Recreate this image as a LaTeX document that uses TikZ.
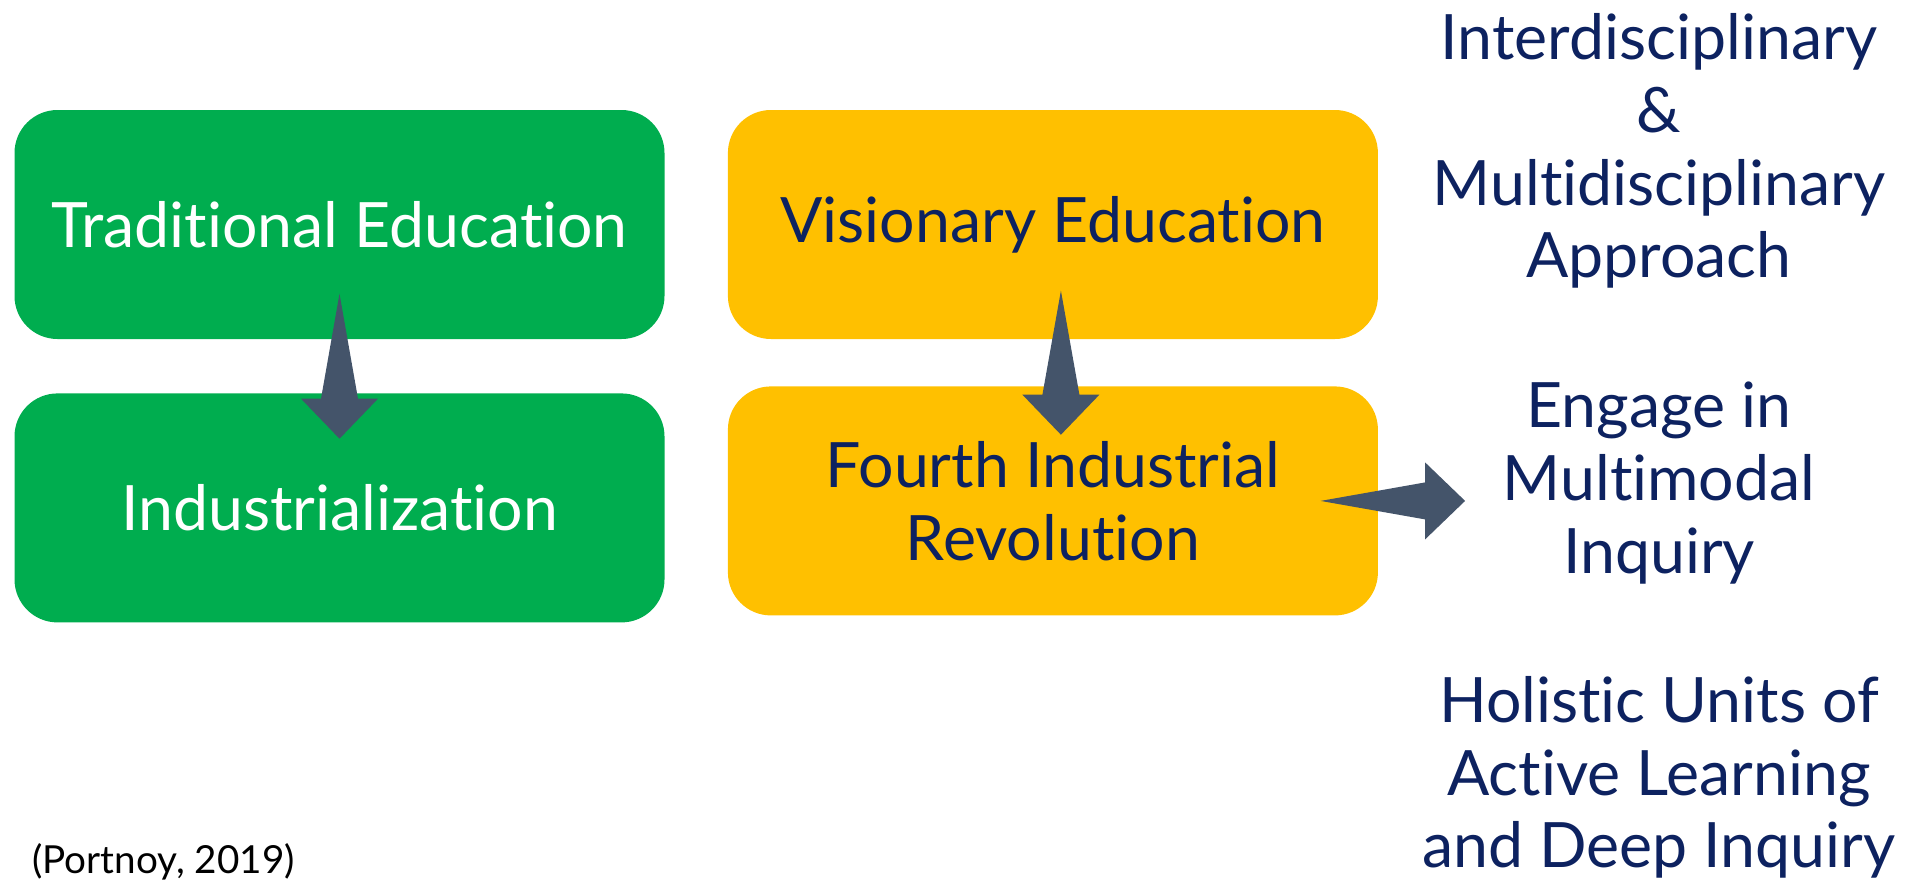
\documentclass[tikz,border=0pt]{standalone}
\usepackage{fontspec}
\setmainfont{Lato}[Ligatures=NoCommon]
\usepackage{tikz}
\usetikzlibrary{positioning,calc}

\definecolor{boxgreen}{HTML}{00AD4F}
\definecolor{boxgold}{HTML}{FFC000}
\definecolor{arrowslate}{HTML}{44546A}
\definecolor{textnavy}{HTML}{0D2260}

\tikzset{
    eduBox/.style={rectangle, rounded corners=0.43cm, minimum width=6.5cm, minimum height=2.29cm, align=center, font=\fontsize{17.8}{20.7}\selectfont},
    greenBox/.style={eduBox, fill=boxgreen, text=white},
    goldBox/.style={eduBox, fill=boxgold, text=textnavy},
    sideText/.style={align=center, text=textnavy, inner sep=0pt, font=\fontsize{17.8}{20.7}\selectfont}
}

% tapered block arrow: #1 tail point, #2 tip point
\newcommand{\taperArrow}[2]{%
    \coordinate (hb) at ($(#2)!0.40cm!(#1)$);
    \fill[arrowslate] (#1) -- ($(hb)!0.185cm!90:(#2)$) -- ($(hb)!0.385cm!90:(#2)$) -- (#2)
        -- ($(hb)!0.385cm!-90:(#2)$) -- ($(hb)!0.185cm!-90:(#2)$) -- cycle;
}

\begin{document}
\begin{tikzpicture}
    \useasboundingbox (0,0) rectangle (19.17,8.85);

    % Left column - green boxes
    \node [greenBox] (trad) at (3.395,6.605) {Traditional Education};
    \node [greenBox, below=0.53cm of trad] (indus) {Industrialization};

    % Middle column - gold boxes
    \node [goldBox, right=0.62cm of trad] (vision) {Visionary Education};
    \node [goldBox, below=0.46cm of vision] (fourth) {Fourth Industrial\\Revolution};

    % Right column - outcomes
    \node [sideText] (approach) at (16.59,7.34) {Interdisciplinary\\\&\\Multidisciplinary\\Approach};
    \node [sideText] (engage) at (16.59,4.02) {Engage in\\Multimodal\\Inquiry};
    \node [sideText] (holistic) at (16.59,1.075) {Holistic Units of\\Active Learning\\and Deep Inquiry};

    % Source
    \node [anchor=west, font=\fontsize{11}{13}\selectfont] (cite) at (0.2,0.23) {(Portnoy, 2019)};

    % Arrow ends
    \coordinate (tradTail) at ([yshift=4.6mm]trad.south);
    \coordinate (indusTip) at ([yshift=-4.6mm]indus.north);
    \coordinate (visionTail) at ([xshift=0.8mm, yshift=4.9mm]vision.south);
    \coordinate (fourthTip) at ([xshift=0.8mm, yshift=-4.9mm]fourth.north);
    \coordinate (fourthTail) at ([xshift=-5.8mm]fourth.east);
    \coordinate (engageTip) at ($(fourthTail -| engage.west)+(-0.37,0)$);

    % Arrows
    \taperArrow{tradTail}{indusTip}
    \taperArrow{visionTail}{fourthTip}
    \taperArrow{fourthTail}{engageTip}

\end{tikzpicture}
\end{document}
